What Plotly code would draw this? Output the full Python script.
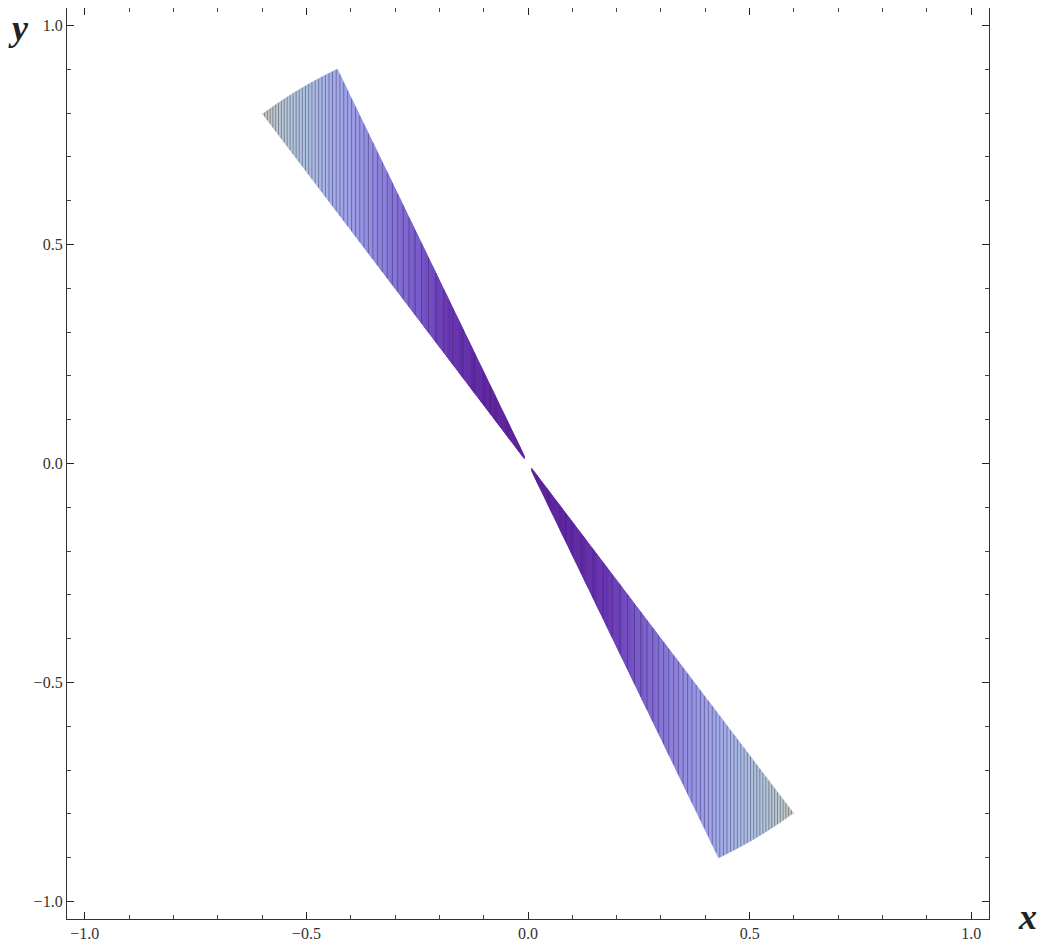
import numpy as np
import plotly.graph_objects as go

# ---- data ----
# upper-left lobe corners (the lower-right lobe is its point reflection)
tip_left = (-0.60, 0.80)     # outer end of the lower/left edge
tip_top = (-0.43, 0.90)      # outer end of the upper/right edge
center_gap = 0.008           # lobes stop this far (in x) from the origin
n_seams = 50                 # number of dark seam lines per lobe
n_fill = 240                 # fill strips per lobe

# colour (by |x|) along the lobe
color_pos = [0.0, 0.10, 0.18, 0.25, 0.32, 0.38, 0.43, 0.48, 0.53, 0.575, 0.60]
color_r = [88, 92, 102, 118, 136, 150, 160, 168, 176, 188, 204]
color_g = [30, 36, 52, 88, 122, 150, 168, 186, 198, 202, 196]
color_b = [150, 158, 176, 200, 216, 228, 232, 226, 216, 202, 170]

major_ticks = [-1.0, -0.5, 0.0, 0.5, 1.0]
axis_range = [-1.04, 1.04]

# ---- geometry of the region ----
slope_lo = tip_left[1] / -tip_left[0]
slope_hi = tip_top[1] / -tip_top[0]
R = float(np.hypot(*tip_top))
s_max = -tip_left[0]


def bounds(s):
    lo = slope_lo * s
    hi = np.minimum(slope_hi * s, np.sqrt(np.maximum(R * R - s * s, 0)))
    return lo, np.maximum(hi, lo)


def col(s):
    r = np.interp(s, color_pos, color_r)
    g = np.interp(s, color_pos, color_g)
    b = np.interp(s, color_pos, color_b)
    return f"rgb({r:.0f},{g:.0f},{b:.0f})"


fig = go.Figure()

s_grid = np.union1d(np.linspace(center_gap, s_max, n_fill + 1), [-tip_top[0]])
for i in range(len(s_grid) - 1):
    s0, s1 = s_grid[i], s_grid[i + 1]
    lo0, hi0 = bounds(s0)
    lo1, hi1 = bounds(s1)
    c = col(0.5 * (s0 + s1))
    for sign in (1, -1):
        xs = [-sign * s0, -sign * s1, -sign * s1, -sign * s0, -sign * s0]
        ys = [sign * lo0, sign * lo1, sign * hi1, sign * hi0, sign * lo0]
        fig.add_trace(go.Scatter(x=xs, y=ys, mode="lines", fill="toself",
                                 fillcolor=c, line=dict(color=c, width=0.7),
                                 hoverinfo="skip", showlegend=False))

# seam lines
sx, sy = [], []
for k in range(1, n_seams):
    s = s_max * np.sqrt(k / n_seams)
    lo, hi = bounds(s)
    for sign in (1, -1):
        sx += [-sign * s, -sign * s, None]
        sy += [sign * lo, sign * hi, None]
fig.add_trace(go.Scatter(x=sx, y=sy, mode="lines",
                         line=dict(color="rgba(40,25,80,0.45)", width=0.9),
                         hoverinfo="skip", showlegend=False))

axis_common = dict(
    range=axis_range, showgrid=False, zeroline=False,
    showline=True, linecolor="#333", linewidth=1.3, mirror="ticks",
    ticks="inside", ticklen=7, tickwidth=1.2, tickcolor="#222",
    tickvals=major_ticks, tickformat=".1f",
    tickfont=dict(family="Liberation Serif", size=16, color="#333"),
    minor=dict(dtick=0.1, ticks="inside", ticklen=4, tickwidth=1, tickcolor="#444",
               showgrid=False),
)

fig.update_xaxes(**axis_common)
fig.update_yaxes(**axis_common)

fig.update_layout(
    width=1038, height=939,
    margin=dict(l=59, r=57, t=0, b=28, autoexpand=False),
    paper_bgcolor="white", plot_bgcolor="white",
    annotations=[
        dict(text="<b><i>y</i></b>", xref="paper", yref="paper", x=-0.053, y=0.978,
             xanchor="center", yanchor="middle", showarrow=False,
             font=dict(family="Liberation Serif", size=36, color="#222")),
        dict(text="<b><i>x</i></b>", xref="paper", yref="paper", x=1.042, y=0.002,
             xanchor="center", yanchor="middle", showarrow=False,
             font=dict(family="Liberation Serif", size=36, color="#222")),
    ],
)

fig.write_html("out.html")
